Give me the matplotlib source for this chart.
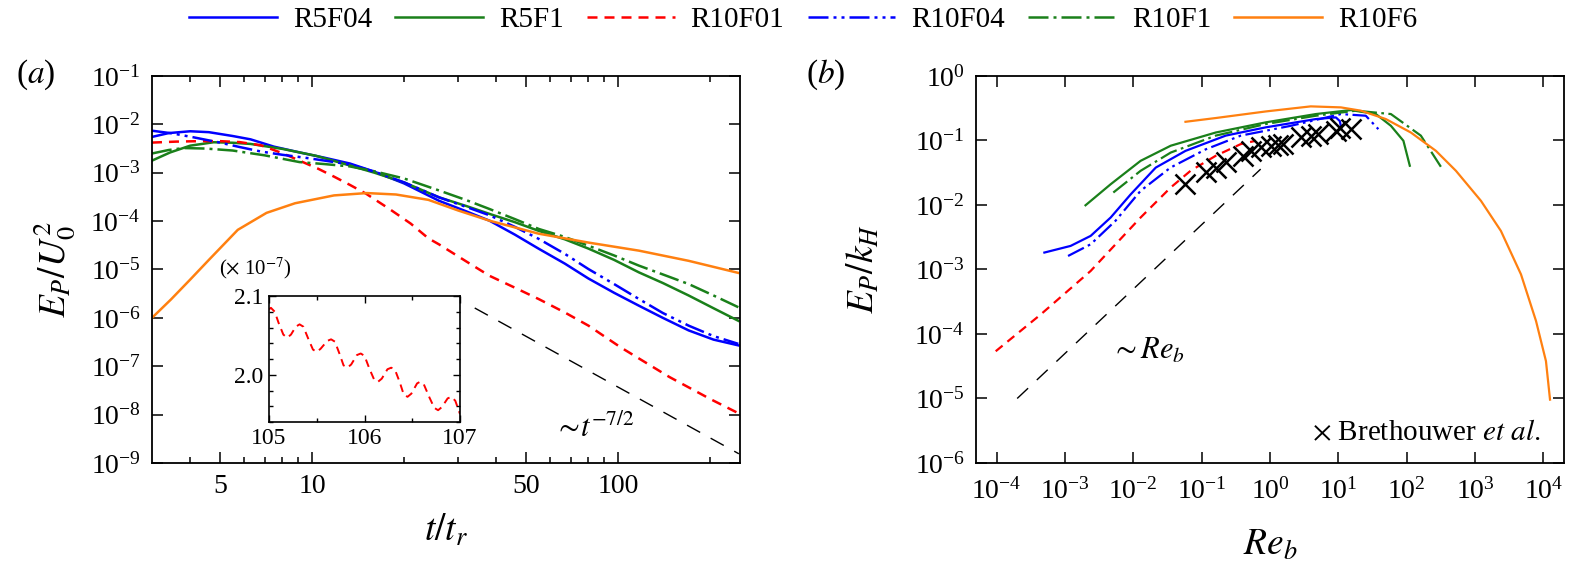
import matplotlib
matplotlib.use("Agg")
import matplotlib.pyplot as plt
from matplotlib.lines import Line2D
from matplotlib.ticker import FixedLocator, FixedFormatter, LogLocator, NullLocator, NullFormatter, MultipleLocator

plt.rcParams["font.family"] = "serif"
plt.rcParams["font.serif"] = ["Liberation Serif", "DejaVu Serif"]
plt.rcParams["mathtext.fontset"] = "stix"

# ---- panel (a): E_P / U_0^2 against t / t_r ----
t_r5f04 = [3.0, 3.4, 4.0, 4.6, 5.5, 6.3, 7.5, 9.1, 11, 13.3, 16, 20, 26, 32, 38, 46, 55, 67, 80, 97, 117, 140, 170, 205, 247]
ep_r5f04 = [5.5e-3, 6.6e-3, 7.2e-3, 6.9e-3, 5.75e-3, 4.9e-3, 3.47e-3, 2.63e-3, 2.04e-3, 1.55e-3, 1.05e-3, 6.0e-4, 2.63e-4,
            1.58e-4, 1.02e-4, 5.25e-5, 2.69e-5, 1.32e-5, 6.5e-6, 3.3e-6, 1.78e-6, 1.0e-6, 5.5e-7, 3.55e-7, 2.7e-7]

t_r5f1 = [3.0, 3.44, 4.0, 4.77, 5.5, 6.3, 8.05, 10.3, 13.3, 16, 20, 26, 32, 38, 46, 55, 67, 80, 97, 117, 140, 170, 205, 247]
ep_r5f1 = [1.78e-3, 2.63e-3, 3.63e-3, 4.27e-3, 4.17e-3, 3.94e-3, 3.09e-3, 2.24e-3, 1.41e-3, 1.0e-3, 6.3e-4, 3.1e-4, 2.04e-4,
           1.41e-4, 9.5e-5, 6.3e-5, 4.2e-5, 2.7e-5, 1.58e-5, 8.7e-6, 5.25e-6, 2.9e-6, 1.58e-6, 8.7e-7]

t_r10f01 = [3.0, 3.6, 4.3, 5.0, 5.8, 6.8, 8.05, 9.1, 10.5, 11.8, 13.3, 15, 18, 21, 24, 26, 32, 38, 46, 55, 67, 80, 102, 147, 200, 247]
ep_r10f01 = [4.2e-3, 4.4e-3, 4.5e-3, 4.5e-3, 4.3e-3, 3.7e-3, 2.5e-3, 1.78e-3, 1.2e-3, 8.3e-4, 5.6e-4, 3.7e-4, 1.74e-4, 8.9e-5,
             4.4e-5, 3.3e-5, 1.45e-5, 7.4e-6, 4.2e-6, 2.45e-6, 1.29e-6, 6.9e-7, 2.45e-7, 6.0e-8, 2.1e-8, 1.07e-8]

t_r10f04 = [3.0, 3.5, 4.1, 5.0, 5.8, 6.8, 8.0, 9.5, 11, 13.3, 16, 20, 26, 32, 38, 46, 55, 67, 80, 97, 117, 140, 170, 205, 247]
ep_r10f04 = [7.4e-3, 6.5e-3, 5.4e-3, 4.2e-3, 3.4e-3, 2.75e-3, 2.35e-3, 2.04e-3, 1.78e-3, 1.48e-3, 1.05e-3, 6.3e-4, 3.1e-4,
             1.95e-4, 1.32e-4, 7.6e-5, 4.3e-5, 2.1e-5, 1.02e-5, 5.0e-6, 2.45e-6, 1.26e-6, 6.9e-7, 4.2e-7, 2.9e-7]

t_r10f1 = [3.0, 3.4, 3.8, 4.5, 5.5, 7.0, 9.1, 11, 13.3, 16, 20, 26, 32, 38, 46, 55, 67, 80, 97, 117, 140, 170, 205, 247]
ep_r10f1 = [2.5e-3, 2.95e-3, 3.24e-3, 3.16e-3, 2.88e-3, 2.29e-3, 1.66e-3, 1.51e-3, 1.35e-3, 1.07e-3, 7.6e-4, 4.3e-4, 2.7e-4,
            1.78e-4, 1.1e-4, 6.9e-5, 4.7e-5, 3.1e-5, 1.95e-5, 1.2e-5, 7.9e-6, 5.0e-6, 2.9e-6, 1.66e-6]

t_r10f6 = [3.0, 3.46, 4.0, 4.62, 5.72, 7.1, 8.8, 11.8, 15.1, 18.8, 24, 30, 38, 55, 80, 117, 170, 247]
ep_r10f6 = [1.0e-6, 2.4e-6, 6.2e-6, 1.62e-5, 6.6e-5, 1.48e-4, 2.34e-4, 3.4e-4, 3.8e-4, 3.55e-4, 2.75e-4, 1.66e-4, 1.02e-4,
            5.5e-5, 3.6e-5, 2.45e-5, 1.51e-5, 8.5e-6]

t_slope = [34, 248]
ep_slope = [1.6e-6, 1.55e-9]

# inset: R10F01 zoomed, values in units of 1e-7
t_inset = [105.0, 105.02, 105.06, 105.10, 105.15, 105.19, 105.23, 105.28, 105.32, 105.36, 105.41, 105.46, 105.50,
           105.54, 105.61, 105.65, 105.69, 105.74, 105.78, 105.82, 105.86, 105.92, 105.96, 106.00, 106.05, 106.10,
           106.14, 106.18, 106.24, 106.28, 106.32, 106.37, 106.41, 106.45, 106.49, 106.55, 106.58, 106.62, 106.68,
           106.73, 106.77, 106.81, 106.87, 106.91, 106.95, 107.0]
ep_inset = [2.083, 2.085, 2.080, 2.066, 2.051, 2.047, 2.051, 2.061, 2.064, 2.061, 2.046, 2.032, 2.029,
            2.033, 2.043, 2.045, 2.042, 2.026, 2.012, 2.009, 2.013, 2.025, 2.027, 2.024, 2.008, 1.994,
            1.991, 1.995, 2.007, 2.009, 2.006, 1.990, 1.975, 1.972, 1.976, 1.989, 1.991, 1.988, 1.971,
            1.958, 1.955, 1.959, 1.970, 1.972, 1.967, 1.950]

# ---- panel (b): E_P / k_H against Re_b ----
re_r5f04 = [5.0e-4, 1.21e-3, 2.38e-3, 4.67e-3, 9.2e-3, 2.13e-2, 5.8e-2, 0.225, 0.87, 4.7, 9.2, 10.5, 11.0]
ek_r5f04 = [1.83e-3, 2.32e-3, 3.32e-3, 6.4e-3, 1.47e-2, 3.8e-2, 6.9e-2, 0.119, 0.16, 0.215, 0.228, 0.2, 0.158]

re_r5f1 = [2.0e-3, 4.67e-3, 1.28e-2, 3.53e-2, 0.161, 0.867, 4.69, 15.2, 35.4, 58.7, 89.5, 111]
ek_r5f1 = [9.9e-3, 2.1e-2, 4.84e-2, 8.3e-2, 0.133, 0.191, 0.257, 0.296, 0.257, 0.169, 9.9e-2, 4.06e-2]

re_r10f01 = [9.7e-5, 4.4e-4, 2.38e-3, 1.28e-2, 3.53e-2, 6.9e-2, 0.161, 0.374, 0.62]
ek_r10f01 = [5.4e-5, 2.0e-4, 9.5e-4, 6.4e-3, 1.87e-2, 3.4e-2, 5.8e-2, 8.8e-2, 9.9e-2]

re_r10f04 = [1.11e-3, 2.38e-3, 5.5e-3, 1.28e-2, 3.5e-2, 0.115, 0.374, 2.02, 10.9, 25.2, 38.5]
ek_r10f04 = [1.62e-3, 2.46e-3, 5.7e-3, 1.66e-2, 3.8e-2, 7.3e-2, 0.119, 0.169, 0.257, 0.242, 0.150]

re_r10f1 = [5.1e-3, 1.28e-2, 3.53e-2, 0.161, 0.867, 4.69, 18.0, 58.7, 161, 317]
ek_r10f1 = [1.56e-2, 3.39e-2, 6.5e-2, 0.119, 0.18, 0.242, 0.29, 0.257, 0.119, 3.9e-2]

re_r10f6 = [5.8e-2, 0.161, 0.867, 3.95, 10.9, 21.3, 49.5, 115, 268, 525, 1220, 2390, 4700, 7800, 10900, 12500]
ek_r10f6 = [0.195, 0.223, 0.282, 0.338, 0.326, 0.29, 0.215, 0.133, 6.9e-2, 3.39e-2, 1.16e-2, 3.96e-3, 8.4e-4, 1.59e-4,
            3.8e-5, 9.6e-6]

re_breth = [0.058, 0.115, 0.161, 0.225, 0.406, 0.52, 0.733, 1.03, 1.3, 1.57, 2.83, 3.95, 5.0, 9.2, 10.5, 15.2]
ek_breth = [0.021, 0.032, 0.038, 0.046, 0.058, 0.068, 0.078, 0.083, 0.085, 0.088, 0.114, 0.118, 0.125, 0.142, 0.155, 0.150]

re_slope = [2.0e-4, 0.73]
ek_slope = [1.0e-5, 3.6e-2]

labels = ["R5F04", "R5F1", "R10F01", "R10F04", "R10F1", "R10F6"]
colors = ["#0000ff", "#1a801a", "#ff0000", "#0000ff", "#1a801a", "#ff8010"]
dashes = [None, None, (4, 2.8), (8, 2, 1.2, 2, 1.2, 2), (8, 2, 1.2, 2), None]

left_series = [(t_r5f04, ep_r5f04), (t_r5f1, ep_r5f1), (t_r10f01, ep_r10f01),
               (t_r10f04, ep_r10f04), (t_r10f1, ep_r10f1), (t_r10f6, ep_r10f6)]
right_series = [(re_r5f04, ek_r5f04), (re_r5f1, ek_r5f1), (re_r10f01, ek_r10f01),
                (re_r10f04, ek_r10f04), (re_r10f1, ek_r10f1), (re_r10f6, ek_r10f6)]


def frame(ax, lw=1.3):
    for sp in ax.spines.values():
        sp.set_linewidth(lw)
    ax.tick_params(which="both", direction="in", top=True, right=True, width=1.1, labelsize=20, pad=8)
    ax.tick_params(which="major", length=8)
    ax.tick_params(which="minor", length=4.5)


fig = plt.figure(figsize=(15.75, 5.77), dpi=100)
ax_a = fig.add_axes([0.0965, 0.1976, 0.3733, 0.6707])
ax_b = fig.add_axes([0.6197, 0.1976, 0.3733, 0.6707])

for (x, y), c, d in zip(left_series, colors, dashes):
    (ln,) = ax_a.plot(x, y, color=c, lw=1.8)
    if d is not None:
        ln.set_dashes(d)
(ln,) = ax_a.plot(t_slope, ep_slope, color="black", lw=1.0)
ln.set_dashes((10.8, 8.6))

ax_a.set_xscale("log")
ax_a.set_yscale("log")
ax_a.set_xlim(3, 250)
ax_a.set_ylim(1e-9, 1e-1)
frame(ax_a)
ax_a.xaxis.set_major_locator(FixedLocator([5, 10, 50, 100]))
ax_a.xaxis.set_major_formatter(FixedFormatter(["5", "10", "50", "100"]))
ax_a.xaxis.set_minor_locator(FixedLocator([4, 6, 7, 8, 9, 20, 30, 40, 60, 70, 80, 90, 200]))
ax_a.xaxis.set_minor_formatter(NullFormatter())
ax_a.yaxis.set_major_locator(LogLocator(base=10, numticks=20))
ax_a.yaxis.set_minor_locator(NullLocator())
ax_a.set_xlabel(r"$t/t_r$", fontsize=27)
ax_a.xaxis.set_label_coords(0.5, -0.13)
ax_a.set_ylabel(r"$E_P/U_0^2$", fontsize=27)
ax_a.yaxis.set_label_coords(-0.125, 0.5)
ax_a.text(0.753, 0.09, r"$\sim\!t^{-7/2}$", transform=ax_a.transAxes, fontsize=22, ha="center", va="center")

# inset
ax_in = fig.add_axes([0.1708, 0.2686, 0.1213, 0.2184])
(ln,) = ax_in.plot(t_inset, ep_inset, color="#ff0000", lw=1.4)
ln.set_dashes((4, 2.8))
ax_in.set_xlim(105, 107)
ax_in.set_ylim(1.94, 2.1)
for sp in ax_in.spines.values():
    sp.set_linewidth(1.2)
ax_in.tick_params(which="both", direction="in", top=True, right=True, width=1.0, labelsize=17, pad=4)
ax_in.tick_params(which="major", length=5)
ax_in.tick_params(which="minor", length=3)
ax_in.xaxis.set_major_locator(FixedLocator([105, 106, 107]))
ax_in.xaxis.set_major_formatter(FixedFormatter(["105", "106", "107"]))
ax_in.xaxis.set_minor_locator(MultipleLocator(0.5))
ax_in.yaxis.set_major_locator(FixedLocator([2.0, 2.1]))
ax_in.yaxis.set_major_formatter(FixedFormatter(["2.0", "2.1"]))
ax_in.yaxis.set_minor_locator(MultipleLocator(0.02))
fig.text(0.1625, 0.5355, r"($\times$ 10$^{-7}$)", fontsize=15, ha="center", va="center")

for (x, y), c, d in zip(right_series, colors, dashes):
    (ln,) = ax_b.plot(x, y, color=c, lw=1.6)
    if d is not None:
        ln.set_dashes(d)
(ln,) = ax_b.plot(re_slope, ek_slope, color="black", lw=1.0)
ln.set_dashes((10.8, 8.6))
ax_b.plot(re_breth, ek_breth, linestyle="none", marker="x", color="black", markersize=15, mew=1.8)

ax_b.set_xscale("log")
ax_b.set_yscale("log")
ax_b.set_xlim(5e-5, 2e4)
ax_b.set_ylim(1e-6, 1)
frame(ax_b)
ax_b.tick_params(axis="x", pad=11)
ax_b.xaxis.set_major_locator(LogLocator(base=10, numticks=20))
ax_b.xaxis.set_minor_locator(NullLocator())
ax_b.yaxis.set_major_locator(LogLocator(base=10, numticks=20))
ax_b.yaxis.set_minor_locator(NullLocator())
ax_b.set_xlabel(r"$Re_b$", fontsize=27)
ax_b.xaxis.set_label_coords(0.5, -0.17)
ax_b.set_ylabel(r"$E_P/k_H$", fontsize=27)
ax_b.yaxis.set_label_coords(-0.16, 0.5)
ax_b.text(0.229, 0.29, r"$\sim Re_b$", transform=ax_b.transAxes, fontsize=22, ha="left", va="center")
ax_b.text(0.96, 0.078, r"$\times$ Brethouwer $\it{et\ al.}$", transform=ax_b.transAxes, fontsize=21,
          ha="right", va="center")

fig.text(0.010, 0.87, r"($\it{a}$)", fontsize=24, ha="left", va="center")
fig.text(0.512, 0.87, r"($\it{b}$)", fontsize=24, ha="left", va="center")

handles = []
for lab, c, d in zip(labels, colors, dashes):
    h = Line2D([], [], color=c, lw=1.8, label=lab)
    if d is not None:
        h.set_dashes(d)
    handles.append(h)
fig.legend(handles=handles, loc="center", bbox_to_anchor=(0.51, 0.965), ncol=6, frameon=False,
           fontsize=21, handlelength=3.0, handletextpad=0.55, columnspacing=0.8)

fig.savefig("out.png", dpi=100)
plt.close(fig)
